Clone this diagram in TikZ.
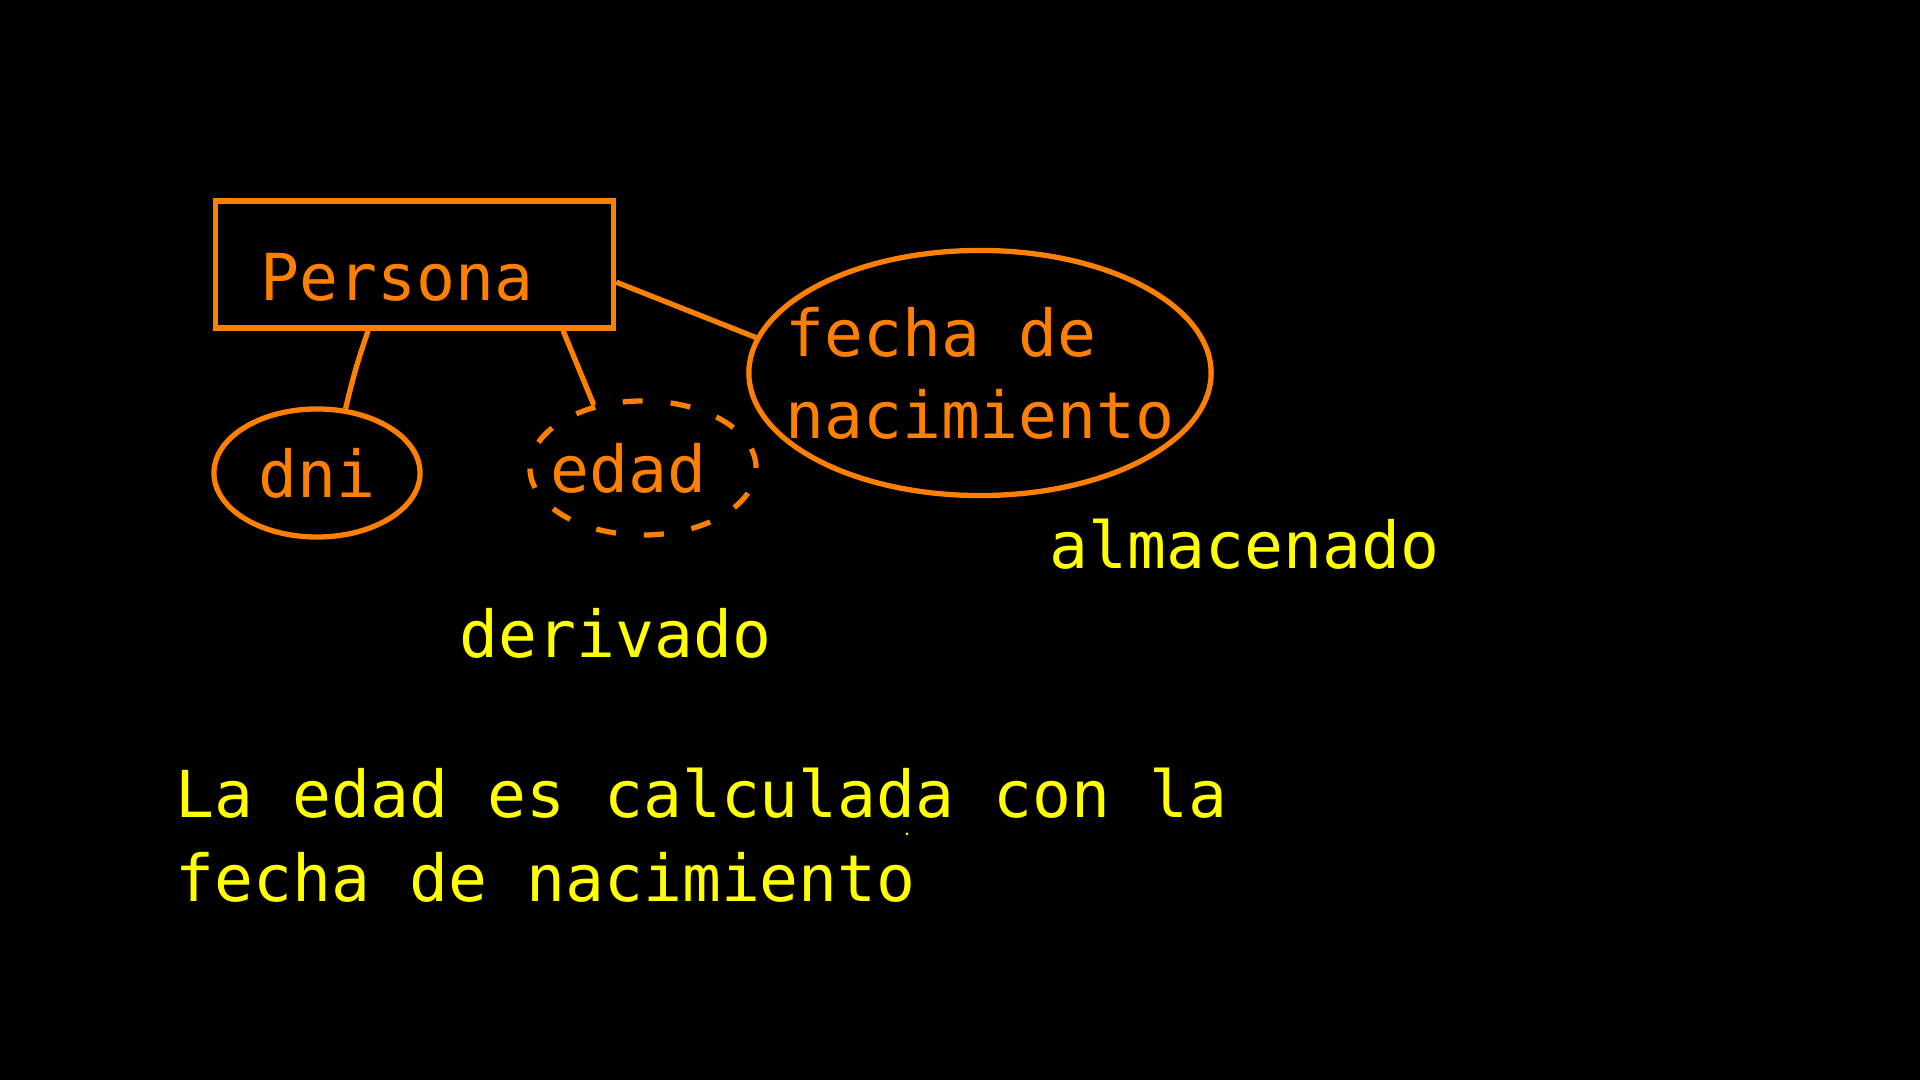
\documentclass[tikz,border=0pt]{standalone}
\usepackage{fontspec}
\setmonofont{DejaVu Sans Mono}
\usepackage{xcolor}
\usepackage{tikz}
\usetikzlibrary{shapes.geometric}
\definecolor{erorange}{RGB}{255,128,0}
\definecolor{eryellow}{RGB}{255,255,0}
\tikzset{
  entity/.style={draw=erorange,line width=1.5pt,text=erorange,rectangle,
    minimum width=3.98cm,minimum height=1.27cm,inner xsep=0.45cm,
    text width=3.08cm,align=left,text height=0.71cm,text depth=0cm},
  attr/.style={draw=erorange,line width=1.5pt,text=erorange,ellipse,inner sep=0pt},
  note/.style={text=eryellow,anchor=base west,inner sep=0pt},
  link/.style={draw=erorange,line width=1.5pt}
}

\begin{document}
\begin{tikzpicture}[x=0.01cm,y=-0.01cm,font=\ttfamily\fontsize{18.4}{23.3}\selectfont]
\fill[black] (0,0) rectangle (1920,1080);
\useasboundingbox (0,0) rectangle (1920,1080);
    \node[entity] (persona) at (414.5,264.5) {Persona};
    \node[attr,minimum width=2.06cm,minimum height=1.28cm] (dni) at (317,473) {dni};
    \node[attr,dash pattern=on 0.2cm off 0.28cm,inner xsep=-0.2cm,minimum width=2.26cm,minimum height=1.34cm] (edad) at (643,468) {edad\kern0.29cm};
    \node[attr,inner xsep=-0.32cm,minimum width=4.62cm,minimum height=2.45cm,align=left] (fecha) at (980,373) {fecha de\\nacimiento};
    % conectores
    \draw[link] (persona.-5) -- (fecha.171);
    \draw[link] (persona.-125) to[bend right=3] (dni.66);
    \draw[link] (persona.-24.5) -- (edad.128);
    % notas
    \node[note] (almac) at (1049,569) {almacenado};
    \node[note] (deriv) at (459,658) {derivado};
    \node[note] (expl1) at (175,818) {La edad es calculada con la};
    \node[note] (expl2) at (175,902) {fecha de nacimiento};
    \fill[eryellow] (907,834) circle (1.5);
\end{tikzpicture}
\end{document}
